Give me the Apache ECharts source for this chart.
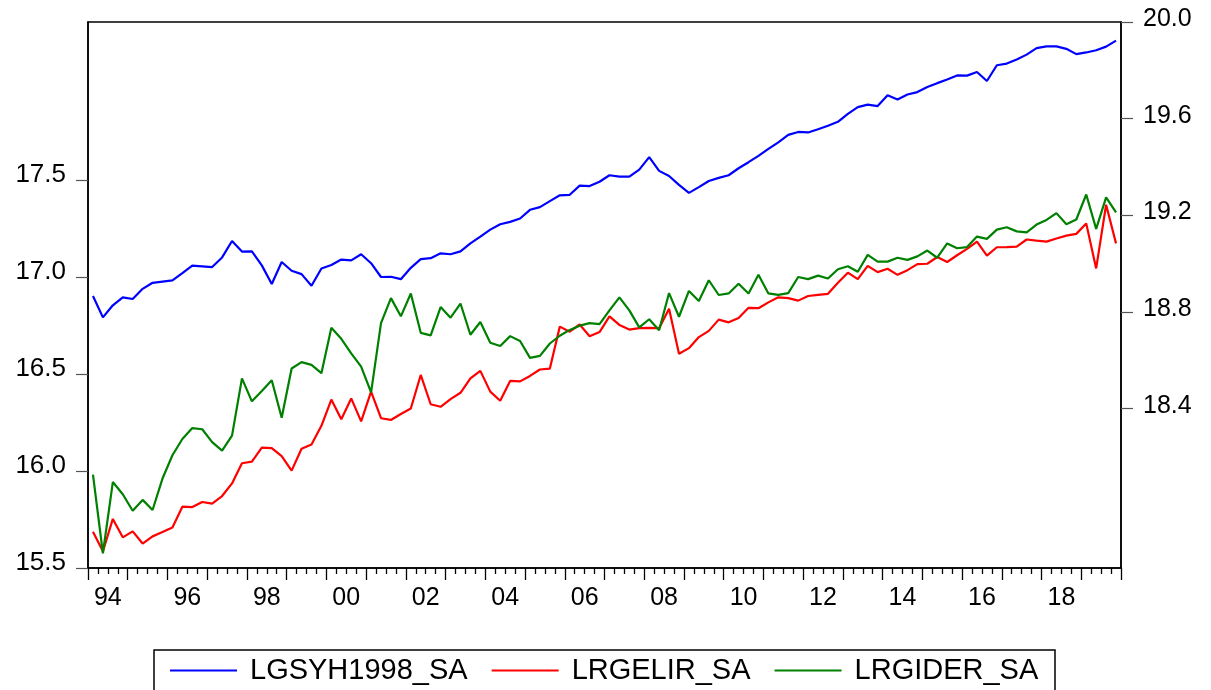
<!DOCTYPE html>
<html>
<head>
<meta charset="utf-8">
<script src="https://cdn.jsdelivr.net/npm/echarts@6/dist/echarts.min.js"></script>
<style>
html,body{margin:0;padding:0;background:#fff;}
#chart{width:1211px;height:690px;}
</style>
</head>
<body>
<div id="chart"></div>
<script>
// Quarterly observations 1994Q1 .. 2019Q4
const startYear = 1994;
const endYear = 2019;
const quarters = [];
for (let y = startYear; y <= endYear; y++) {
  for (let q = 1; q <= 4; q++) quarters.push(y + 'Q' + q);
}

const seriesNames = ['LGSYH1998_SA', 'LRGELIR_SA', 'LRGIDER_SA'];

// LGSYH1998_SA (right axis)
const lgsyh1998 = [
  18.866, 18.778, 18.828, 18.861, 18.854, 18.896, 18.921, 18.926, 18.931, 18.961,
  18.992, 18.989, 18.986, 19.026, 19.094, 19.050, 19.051, 18.993, 18.916, 19.007,
  18.971, 18.957, 18.909, 18.980, 18.995, 19.017, 19.014, 19.039, 19.002, 18.945,
  18.946, 18.936, 18.983, 19.019, 19.023, 19.043, 19.039, 19.051, 19.084, 19.112,
  19.141, 19.163, 19.173, 19.187, 19.223, 19.234, 19.259, 19.283, 19.285, 19.323,
  19.321, 19.339, 19.366, 19.360, 19.360, 19.389, 19.441, 19.384, 19.363, 19.326,
  19.293, 19.317, 19.342, 19.355, 19.366, 19.395, 19.420, 19.446, 19.475, 19.502,
  19.533, 19.545, 19.543, 19.556, 19.571, 19.587, 19.620, 19.648, 19.658, 19.652,
  19.697, 19.679, 19.700, 19.710, 19.731, 19.747, 19.762, 19.779, 19.778, 19.793,
  19.756, 19.821, 19.828, 19.845, 19.865, 19.892, 19.899, 19.899, 19.889, 19.867,
  19.874, 19.883, 19.898, 19.923
];

// LRGELIR_SA (left axis)
const lrgelir = [
  15.687, 15.586, 15.753, 15.658, 15.689, 15.626, 15.663, 15.685, 15.709, 15.816,
  15.814, 15.840, 15.832, 15.871, 15.936, 16.040, 16.048, 16.120, 16.118, 16.077,
  16.002, 16.115, 16.136, 16.233, 16.368, 16.267, 16.374, 16.256, 16.409, 16.272,
  16.263, 16.294, 16.322, 16.495, 16.344, 16.331, 16.370, 16.403, 16.477, 16.516,
  16.409, 16.362, 16.464, 16.462, 16.490, 16.523, 16.528, 16.744, 16.718, 16.755,
  16.694, 16.716, 16.797, 16.753, 16.729, 16.736, 16.738, 16.736, 16.836, 16.604,
  16.633, 16.690, 16.722, 16.780, 16.766, 16.788, 16.841, 16.839, 16.869, 16.895,
  16.891, 16.878, 16.902, 16.908, 16.913, 16.970, 17.022, 16.989, 17.057, 17.025,
  17.042, 17.011, 17.035, 17.066, 17.068, 17.103, 17.077, 17.112, 17.145, 17.182,
  17.110, 17.153, 17.154, 17.156, 17.193, 17.187, 17.182, 17.198, 17.213, 17.222,
  17.276, 17.044, 17.372, 17.173
];

// LRGIDER_SA (left axis)
const lrgider = [
  15.981, 15.576, 15.943, 15.880, 15.795, 15.851, 15.799, 15.961, 16.081, 16.165,
  16.221, 16.215, 16.149, 16.105, 16.182, 16.477, 16.359, 16.412, 16.468, 16.274,
  16.528, 16.561, 16.547, 16.504, 16.738, 16.681, 16.606, 16.538, 16.405, 16.762,
  16.891, 16.797, 16.915, 16.712, 16.699, 16.845, 16.790, 16.863, 16.702, 16.768,
  16.661, 16.644, 16.695, 16.670, 16.583, 16.593, 16.657, 16.697, 16.727, 16.749,
  16.762, 16.757, 16.828, 16.895, 16.828, 16.740, 16.782, 16.725, 16.917, 16.795,
  16.928, 16.876, 16.983, 16.907, 16.915, 16.965, 16.915, 17.011, 16.915, 16.908,
  16.917, 17.000, 16.989, 17.007, 16.992, 17.040, 17.055, 17.027, 17.114, 17.079,
  17.079, 17.099, 17.088, 17.106, 17.136, 17.099, 17.173, 17.148, 17.154, 17.208,
  17.196, 17.244, 17.256, 17.235, 17.230, 17.270, 17.294, 17.329, 17.272, 17.296,
  17.425, 17.248, 17.410, 17.333
];

// Tick labels
const xTickYears = [1994, 1996, 1998, 2000, 2002, 2004, 2006, 2008, 2010, 2012, 2014, 2016, 2018];
const xTickLabels = ['94', '96', '98', '00', '02', '04', '06', '08', '10', '12', '14', '16', '18'];
const leftTicks = [15.5, 16.0, 16.5, 17.0, 17.5];
const rightTicks = [18.4, 18.8, 19.2, 19.6, 20.0];

// quarter label -> position on the date axis (centre of the quarter)
function qPos(label) {
  const y = parseInt(label.slice(0, 4), 10);
  const q = parseInt(label.slice(5), 10);
  return y + (q - 0.5) / 4;
}
function pairs(values) {
  return quarters.map((lab, i) => [qPos(lab), values[i]]);
}

const FONT = 'Liberation Sans, Arial, Helvetica, sans-serif';
const chart = echarts.init(document.getElementById('chart'), null, {renderer: 'canvas'});

const xLabelPos = xTickYears.map(y => y + 0.5);

chart.setOption({
  backgroundColor: '#ffffff',
  animation: false,
  grid: {
    left: 88, top: 22, right: 90, bottom: 122,
    show: true, borderColor: '#000', borderWidth: 1.5,
    containLabel: false, outerBoundsMode: 'none'
  },
  legend: {
    left: 170, top: 656, padding: 0,
    icon: 'rect', itemWidth: 67, itemHeight: 2, itemGap: 24,
    textStyle: {fontFamily: FONT, fontSize: 29, color: '#000', padding: [0, 0, 0, 8]},
    data: seriesNames
  },
  graphic: [{
    type: 'rect', silent: true,
    shape: {x: 154, y: 650, width: 901, height: 70},
    style: {fill: 'none', stroke: '#000', lineWidth: 1.5}
  }],
  xAxis: {
    type: 'value', min: startYear, max: endYear + 1, interval: 1,
    axisLine: {show: true, lineStyle: {color: '#000', width: 1.5}},
    axisTick: {show: true, length: 12, lineStyle: {color: '#000', width: 1.3}},
    minorTick: {show: true, splitNumber: 4, length: 6, lineStyle: {color: '#000', width: 1.3}},
    splitLine: {show: false}, minorSplitLine: {show: false},
    axisLabel: {
      customValues: xLabelPos,
      formatter: v => {
        const k = xLabelPos.findIndex(p => Math.abs(p - v) < 1e-6);
        return k >= 0 ? xTickLabels[k] : '';
      },
      fontFamily: FONT, fontSize: 25, color: '#000', margin: 18
    }
  },
  yAxis: [{
    type: 'value', position: 'left', min: 15.5, max: 18.314,
    axisLine: {show: true, lineStyle: {color: '#000', width: 1.5}},
    axisTick: {show: true, customValues: leftTicks, length: 12, lineStyle: {color: '#555', width: 1.2}},
    splitLine: {show: false},
    axisLabel: {
      customValues: leftTicks, formatter: v => '{t|' + v.toFixed(1) + '}',
      margin: 22,
      rich: {t: {fontFamily: FONT, fontSize: 26, color: '#000', padding: [0, 0, 11, 0]}}
    }
  }, {
    type: 'value', position: 'right', min: 17.741, max: 20.0,
    axisLine: {show: true, lineStyle: {color: '#000', width: 1.5}},
    axisTick: {show: true, customValues: rightTicks, length: 12, lineStyle: {color: '#555', width: 1.2}},
    splitLine: {show: false},
    axisLabel: {
      customValues: rightTicks, formatter: v => '{t|' + v.toFixed(1) + '}',
      margin: 22,
      rich: {t: {fontFamily: FONT, fontSize: 25, color: '#000', padding: [0, 0, 6, 0]}}
    }
  }],
  series: [{
    name: seriesNames[0], type: 'line', yAxisIndex: 1, data: pairs(lgsyh1998),
    symbol: 'none', lineStyle: {color: '#0000ff', width: 2.2}, itemStyle: {color: '#0000ff'}
  }, {
    name: seriesNames[1], type: 'line', yAxisIndex: 0, data: pairs(lrgelir),
    symbol: 'none', lineStyle: {color: '#ff0000', width: 2.2}, itemStyle: {color: '#ff0000'}
  }, {
    name: seriesNames[2], type: 'line', yAxisIndex: 0, data: pairs(lrgider),
    symbol: 'none', lineStyle: {color: '#008000', width: 2.2}, itemStyle: {color: '#008000'}
  }]
});
</script>
</body>
</html>
